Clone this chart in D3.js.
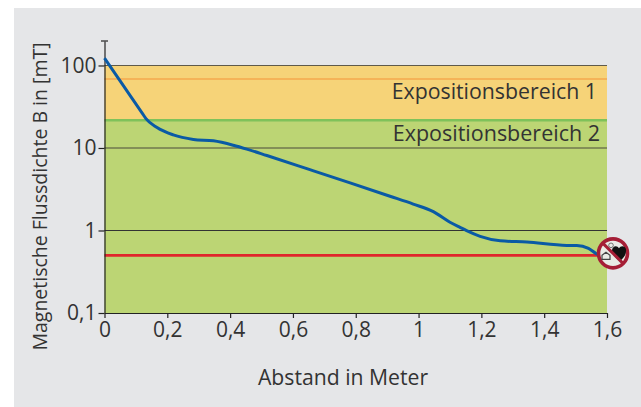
<!DOCTYPE html>
<html>
<head>
<meta charset="utf-8">
<script src="https://cdn.jsdelivr.net/npm/d3@7"></script>
<style>
html, body { margin: 0; padding: 0; background: #fff; }
svg { display: block; }
text { font-family: "Open Sans", sans-serif; fill: #333; }
</style>
</head>
<body>
<div id="chart"></div>
<script>
// values
const distance = [0, 0.06, 0.12, 0.132, 0.166, 0.219, 0.283, 0.347, 0.41, 0.453, 0.517, 0.654, 0.782, 0.909, 0.983, 1.047, 1.10, 1.132, 1.153, 1.196, 1.26, 1.345, 1.472, 1.504, 1.541, 1.567, 1.58];
const fluxDensity = [123, 57, 26.5, 22.7, 17.8, 14.4, 12.7, 12.2, 10.8, 9.7, 8.1, 5.46, 3.77, 2.6, 2.09, 1.69, 1.26, 1.09, 0.995, 0.85, 0.75, 0.724, 0.66, 0.66, 0.608, 0.519, 0.49];
const xTicks = [0, 0.2, 0.4, 0.6, 0.8, 1, 1.2, 1.4, 1.6];
const yTicks = [0.1, 1, 10, 100];
const bandLimits = [0.1, 21.7, 100];
const bandNames = ["Expositionsbereich 1", "Expositionsbereich 2"];
const orangeLimit = 68.6;
const pacemakerLimit = 0.5;
const yTop = 198;

const width = 641, height = 407;
const comma = d => String(d).replace(".", ",");

const svg = d3.select("#chart").append("svg").attr("width", width).attr("height", height);

svg.append("rect").attr("x", 14).attr("y", 8).attr("width", width - 14).attr("height", height - 8).attr("fill", "#e5e6e8");

const x = d3.scaleLinear().domain([0, 1.6]).range([104.5, 607]);
const y = d3.scaleLog().domain([0.1, yTop]).range([313, 41]);

// bands
svg.append("rect")
    .attr("x", x(0)).attr("width", x(1.6) - x(0))
    .attr("y", y(bandLimits[2])).attr("height", y(bandLimits[1]) - y(bandLimits[2]))
    .attr("fill", "#f6d378");
svg.append("rect")
    .attr("x", x(0)).attr("width", x(1.6) - x(0))
    .attr("y", y(bandLimits[1])).attr("height", y(bandLimits[0]) - y(bandLimits[1]))
    .attr("fill", "#bcd574");

function hline(v, color, w) {
    svg.append("line")
        .attr("x1", x(0)).attr("x2", x(1.6))
        .attr("y1", y(v)).attr("y2", y(v))
        .attr("stroke", color).attr("stroke-width", w);
}
hline(orangeLimit, "#f4a94e", 1.5);
hline(bandLimits[1], "#7fc25a", 2.5);
hline(100, "#5f5a4a", 1.2);
hline(10, "#4a4a3a", 1.2);
hline(1, "#333", 1.2);
hline(pacemakerLimit, "#e0262c", 2.6);

// axes
const xAxis = svg.append("g")
    .attr("transform", "translate(0," + y(0.1) + ")")
    .call(d3.axisBottom(x).tickValues(xTicks).tickFormat(comma).tickSize(5).tickSizeOuter(0).tickPadding(4));
const yAxis = svg.append("g")
    .attr("transform", "translate(" + x(0) + ",0)")
    .call(d3.axisLeft(y).tickValues(yTicks).tickFormat(comma).tickSize(6).tickSizeOuter(0).tickPadding(2));
[xAxis, yAxis].forEach(a => {
    a.selectAll("path, line").attr("stroke", "#222").attr("stroke-width", 1.2);
    a.selectAll("text").attr("font-size", 21).attr("font-family", '"Open Sans", sans-serif').attr("fill", "#333");
});
// cap on top of the y axis
svg.append("line").attr("x1", x(0) - 3.5).attr("x2", x(0) + 3.5).attr("y1", y(yTop)).attr("y2", y(yTop)).attr("stroke", "#222").attr("stroke-width", 1.2);

// band labels
svg.append("text").attr("x", 597).attr("y", 99).attr("text-anchor", "end").attr("font-size", 21.3).text(bandNames[0]);
svg.append("text").attr("x", 600).attr("y", 141).attr("text-anchor", "end").attr("font-size", 21.5).text(bandNames[1]);

// curve
const line = d3.line().x(d => x(d[0])).y(d => y(d[1])).curve(d3.curveMonotoneX);
svg.append("path")
    .datum(distance.map((d, i) => [d, fluxDensity[i]]))
    .attr("d", line)
    .attr("fill", "none").attr("stroke", "#0a5aa5").attr("stroke-width", 3).attr("stroke-linejoin", "round");

// axis titles
svg.append("text").attr("x", 343).attr("y", 385).attr("text-anchor", "middle").attr("font-size", 21.2).text("Abstand in Meter");
svg.append("text").attr("transform", "translate(47,196.5) rotate(-90)").attr("text-anchor", "middle").attr("font-size", 19.5).text("Magnetische Flussdichte B in [mT]");

// pacemaker warning sign
const sign = svg.append("g").attr("transform", "translate(" + (x(1.6) + 6) + "," + (y(pacemakerLimit) - 2) + ")");
sign.append("circle").attr("r", 14.5).attr("fill", "#e9ebe6").attr("stroke", "#a51e36").attr("stroke-width", 3.6);
sign.append("path")
    .attr("d", "M7,8 C3,5 -1,1 -1,-3 C-1,-7 4,-9 6,-5 C8,-9 14,-7 13,-2 C13,2 10,5 7,8 Z")
    .attr("fill", "#111");
sign.append("path")
    .attr("d", "M-11,2 L-7,-1 L-3,2 L-3,6 L-11,6 Z")
    .attr("fill", "#e9ebe6").attr("stroke", "#444").attr("stroke-width", 1.2);
sign.append("circle").attr("cx", -2).attr("cy", -8).attr("r", 2.3).attr("fill", "#e9ebe6").attr("stroke", "#555").attr("stroke-width", 0.8);
sign.append("line").attr("x1", -10).attr("y1", -10).attr("x2", 10).attr("y2", 10).attr("stroke", "#a51e36").attr("stroke-width", 3);
</script>
</body>
</html>
